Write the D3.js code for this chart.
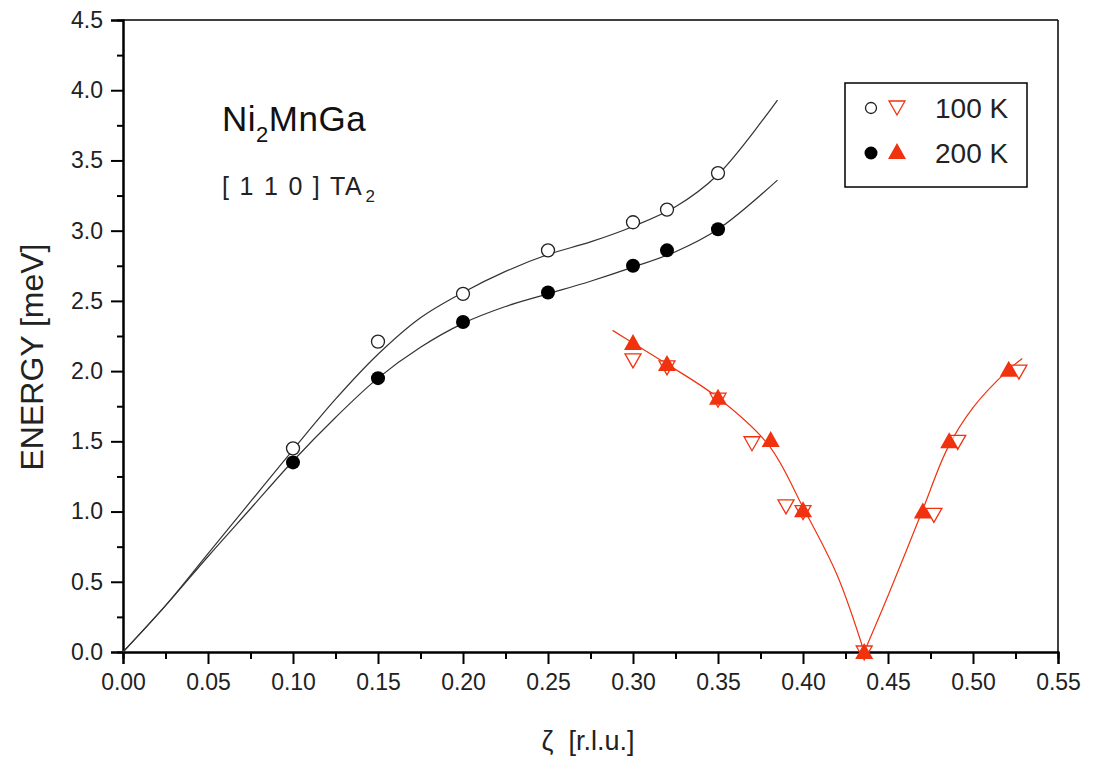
<!DOCTYPE html>
<html><head><meta charset="utf-8">
<script src="https://cdn.jsdelivr.net/npm/d3@7"></script>
<style>body{margin:0;background:#fff}svg{display:block}text{font-family:"Liberation Sans",Arial,sans-serif}</style>
</head><body>
<svg id="c" width="1095" height="763"></svg>
<script>
// ---- data ----
const xTicksMajor = [0,0.05,0.10,0.15,0.20,0.25,0.30,0.35,0.40,0.45,0.50,0.55];
const yTicksMajor = [0,0.5,1.0,1.5,2.0,2.5,3.0,3.5,4.0,4.5];
const q100 = [0.10,0.15,0.20,0.25,0.30,0.32,0.35];
const e100 = [1.45,2.21,2.55,2.86,3.06,3.15,3.41];
const q200 = [0.10,0.15,0.20,0.25,0.30,0.32,0.35];
const e200 = [1.35,1.95,2.35,2.56,2.75,2.86,3.01];
const qRed100 = [0.30,0.32,0.35,0.37,0.39,0.40,0.436,0.477,0.491,0.527];
const eRed100 = [2.08,2.03,1.80,1.49,1.04,1.00,0.00,0.98,1.50,2.00];
const qRed200 = [0.30,0.32,0.35,0.381,0.40,0.436,0.4705,0.486,0.521];
const eRed200 = [2.20,2.05,1.81,1.51,1.01,0.00,1.00,1.50,2.01];
// fitted guide curves
const fitQ = [0,0.025,0.05,0.075,0.10,0.125,0.15,0.175,0.20,0.225,0.25,0.275,0.30,0.325,0.35,0.385];
const fitE100 = [0,0.33,0.70,1.07,1.44,1.80,2.12,2.38,2.56,2.71,2.83,2.92,3.03,3.17,3.40,3.93];
const fitE200 = [0,0.33,0.68,1.02,1.36,1.67,1.95,2.17,2.34,2.46,2.55,2.64,2.74,2.85,3.01,3.36];
const fitRedLQ = [0.288,0.30,0.32,0.35,0.38,0.40,0.42,0.436];
const fitRedLE = [2.29,2.20,2.05,1.81,1.47,1.03,0.55,0.00];
const fitRedRQ = [0.436,0.45,0.47,0.485,0.50,0.52,0.529];
const fitRedRE = [0.00,0.40,1.00,1.45,1.74,2.00,2.09];

const RED = "#f0320f";
const svg = d3.select("#c");
const x = d3.scaleLinear().domain([0,0.55]).range([123,1058]);
const y = d3.scaleLinear().domain([0,4.5]).range([652,20]);

// frame
svg.append("line").attr("x1",123).attr("x2",1058).attr("y1",y(4.5)).attr("y2",y(4.5)).attr("stroke","#000").attr("stroke-width",1.5);
svg.append("line").attr("x1",1058).attr("x2",1058).attr("y1",y(4.5)).attr("y2",y(0)).attr("stroke","#000").attr("stroke-width",1.5);

const xMinor = xTicksMajor.slice(0,-1).map(d=>d+0.025);
const yMinor = yTicksMajor.slice(0,-1).map(d=>d+0.25);

function styleAxis(g){
  g.select(".domain").attr("stroke","#000").attr("stroke-width",2);
  g.selectAll(".tick line").attr("stroke","#000").attr("stroke-width",2);
  g.selectAll("text").attr("fill","#222").style("font-family","'Liberation Sans',Arial,sans-serif").style("font-size","23px");
}
const gx = svg.append("g").attr("transform",`translate(0,${y(0)})`)
  .call(d3.axisBottom(x).tickValues(xTicksMajor).tickSize(12).tickPadding(10).tickFormat(d3.format(".2f")));
styleAxis(gx);
const gxm = svg.append("g").attr("transform",`translate(0,${y(0)})`)
  .call(d3.axisBottom(x).tickValues(xMinor).tickSize(7).tickFormat(""));
styleAxis(gxm);
const gy = svg.append("g").attr("transform",`translate(${x(0)},0)`)
  .call(d3.axisLeft(y).tickValues(yTicksMajor).tickSize(12).tickPadding(8).tickFormat(d3.format(".1f")));
styleAxis(gy);
const gym = svg.append("g").attr("transform",`translate(${x(0)},0)`)
  .call(d3.axisLeft(y).tickValues(yMinor).tickSize(6).tickFormat(""));
styleAxis(gym);

// axis titles
svg.append("text").attr("transform","translate(43,357) rotate(-90)").attr("text-anchor","middle")
  .style("font-size","32px").attr("fill","#222").text("ENERGY [meV]");
svg.append("text").attr("x",588).attr("y",750).attr("text-anchor","middle")
  .style("font-size","27px").attr("fill","#222").attr("xml:space","preserve").text("ζ  [r.l.u.]");

// curves
const line = d3.line().x(d=>x(d[0])).y(d=>y(d[1])).curve(d3.curveCatmullRom.alpha(0.5));
const zip = (a,b)=>a.map((v,i)=>[v,b[i]]);
svg.append("path").attr("d",line(zip(fitQ,fitE100))).attr("fill","none").attr("stroke","#333").attr("stroke-width",1.2);
svg.append("path").attr("d",line(zip(fitQ,fitE200))).attr("fill","none").attr("stroke","#333").attr("stroke-width",1.2);
svg.append("path").attr("d",line(zip(fitRedLQ,fitRedLE))).attr("fill","none").attr("stroke",RED).attr("stroke-width",1.2);
svg.append("path").attr("d",line(zip(fitRedRQ,fitRedRE))).attr("fill","none").attr("stroke",RED).attr("stroke-width",1.2);

// markers
const triUp = "M0,-9 L9,7 L-9,7 Z";
const triDown = "M0,8 L8,-6 L-8,-6 Z";
svg.append("g").selectAll("circle").data(zip(q100,e100)).join("circle")
  .attr("cx",d=>x(d[0])).attr("cy",d=>y(d[1])).attr("r",6.5).attr("fill","#fff").attr("stroke","#222").attr("stroke-width",1.3);
svg.append("g").selectAll("circle").data(zip(q200,e200)).join("circle")
  .attr("cx",d=>x(d[0])).attr("cy",d=>y(d[1])).attr("r",7).attr("fill","#000");
svg.append("g").selectAll("path").data(zip(qRed100,eRed100)).join("path")
  .attr("transform",d=>`translate(${x(d[0])},${y(d[1])})`).attr("d",triDown).attr("fill","#fff").attr("fill-opacity",0.6).attr("stroke",RED).attr("stroke-width",1.3);
svg.append("g").selectAll("path").data(zip(qRed200,eRed200)).join("path")
  .attr("transform",d=>`translate(${x(d[0])},${y(d[1])})`).attr("d",triUp).attr("fill",RED);

// annotations
const t1 = svg.append("text").attr("x",222).attr("y",131).style("font-size","35px").style("letter-spacing","0.5px").attr("fill","#111");
t1.append("tspan").text("Ni");
t1.append("tspan").attr("dy",11).style("font-size","22px").text("2");
t1.append("tspan").attr("dy",-11).text("MnGa");
const t2 = svg.append("text").attr("x",222).attr("y",195).style("font-size","25px").attr("fill","#222").attr("xml:space","preserve");
t2.append("tspan").style("letter-spacing","1.8px").text("[ 1 1 0 ] TA");
t2.append("tspan").attr("dx",2).attr("dy",7).style("font-size","17px").text("2");

// legend
const lg = svg.append("g");
lg.append("rect").attr("x",845).attr("y",83).attr("width",182).attr("height",104).attr("fill","#fff").attr("stroke","#000").attr("stroke-width",1.5);
lg.append("circle").attr("cx",871).attr("cy",108).attr("r",5.5).attr("fill","#fff").attr("stroke","#222").attr("stroke-width",1.3);
lg.append("path").attr("transform","translate(897,107)").attr("d",triDown).attr("fill","#fff").attr("stroke",RED).attr("stroke-width",1.3);
lg.append("text").attr("x",935).attr("y",118).style("font-size","28px").attr("fill","#222").text("100 K");
lg.append("circle").attr("cx",871).attr("cy",153).attr("r",6.5).attr("fill","#000");
lg.append("path").attr("transform","translate(897,152)").attr("d",triUp).attr("fill",RED);
lg.append("text").attr("x",935).attr("y",163).style("font-size","28px").attr("fill","#222").text("200 K");
</script>
</body></html>
